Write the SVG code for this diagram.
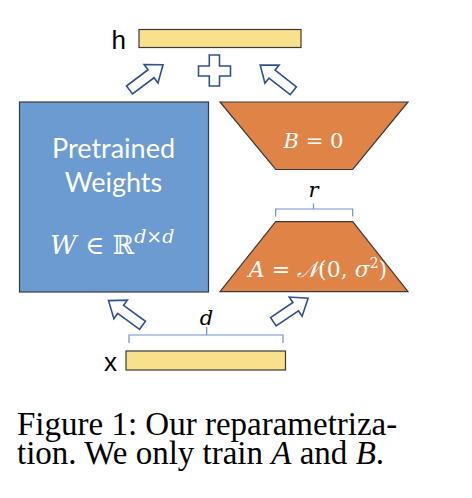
<svg xmlns="http://www.w3.org/2000/svg" width="472" height="498" viewBox="0 0 472 498">
<style>
.bar{fill:#f9e08d;stroke:#3a3a3a;stroke-width:1.2}
.arr{fill:#fff;stroke:#2f5190;stroke-width:1.6;stroke-linejoin:miter}
.lbl{font-family:"Liberation Sans",Arial,sans-serif;font-size:26px;fill:#000}
.wt{font-family:Lato,"Open Sans",sans-serif;font-size:27px;fill:#fff}
.math{font-family:"DejaVu Serif","Liberation Serif",serif;font-style:italic;fill:#fff}
.brace{fill:none;stroke:#6f8fd0;stroke-width:1.2}
.cap{font-family:"Liberation Serif","Times New Roman",serif;font-size:33px;fill:#000}
</style>
<defs>
<path id="ba" d="M0,-5 L27,-5 L27,-11.5 L42,0 L27,11.5 L27,5 L0,5 Z"/>
</defs>
<rect width="472" height="498" fill="#fff"/>

<g id="h">
<text class="lbl" x="111.5" y="49">h</text>
<rect class="bar" x="139" y="29.5" width="162" height="18"/>
</g>

<g id="x">
<text class="lbl" x="104" y="370.5">x</text>
<rect class="bar" x="126" y="351" width="159.5" height="19"/>
</g>

<g id="pretrained">
<rect x="19.5" y="102" width="189" height="190" fill="#6b9bd1" stroke="#3a3a3a" stroke-width="1.2"/>
<text class="wt" x="113.5" y="157.5" text-anchor="middle">Pretrained</text>
<text class="wt" x="113.5" y="192" text-anchor="middle">Weights</text>
<text class="math" x="50" y="254" font-size="26">W <tspan font-style="normal">∈</tspan> <tspan font-style="normal">ℝ</tspan><tspan font-size="19" dy="-11">d×d</tspan></text>
</g>

<g id="B">
<polygon points="220,102 408,102 352.7,169.5 275.7,169.5" fill="#df8346" stroke="#3a3a3a" stroke-width="1.2"/>
<text class="math" x="313.5" y="148" font-size="21" text-anchor="middle">B = <tspan font-style="normal">0</tspan></text>
</g>

<g id="A">
<polygon points="275.7,221.7 352.7,221.7 408,291.7 220,291.7" fill="#df8346" stroke="#3a3a3a" stroke-width="1.2"/>
<text class="math" x="318" y="277" font-size="22" text-anchor="middle">A = 𝒩<tspan font-style="normal">(0,</tspan> σ<tspan font-style="normal" font-size="14" dy="-9">2</tspan><tspan font-style="normal" dy="9">)</tspan></text>
</g>

<g id="plus">
<path class="arr" d="M209.3,55 H219.5 V66 H230.5 V76 H219.5 V86 H209.3 V76 H198.5 V66 H209.3 Z"/>
</g>

<g id="connectors">
<use href="#ba" class="arr" transform="translate(129.5,90) rotate(-37)"/>
<use href="#ba" class="arr" transform="translate(293.3,90.8) rotate(-142)"/>
<use href="#ba" class="arr" transform="translate(142.5,325.3) rotate(-144)"/>
<use href="#ba" class="arr" transform="translate(273.3,321.7) rotate(-34)"/>
<path class="brace" d="M275.7,216.5 V209 H313.5 V203.5 M313.5,209 H352.7 V216.5"/>
<path class="brace" d="M129,343 V335 H206.7 V327 M206.7,335 H283 V343"/>
<text x="313.5" y="197" font-family="DejaVu Serif,Liberation Serif,serif" font-style="italic" font-size="21" text-anchor="middle">r</text>
<text x="206.5" y="325" font-family="DejaVu Serif,Liberation Serif,serif" font-style="italic" font-size="21" text-anchor="middle">d</text>
</g>

<g id="caption">
<text class="cap" x="17" y="435">Figure 1: Our reparametriza-</text>
<text class="cap" x="17" y="464">tion. We only train <tspan font-style="italic">A</tspan> and <tspan font-style="italic">B</tspan>.</text>
</g>
</svg>
